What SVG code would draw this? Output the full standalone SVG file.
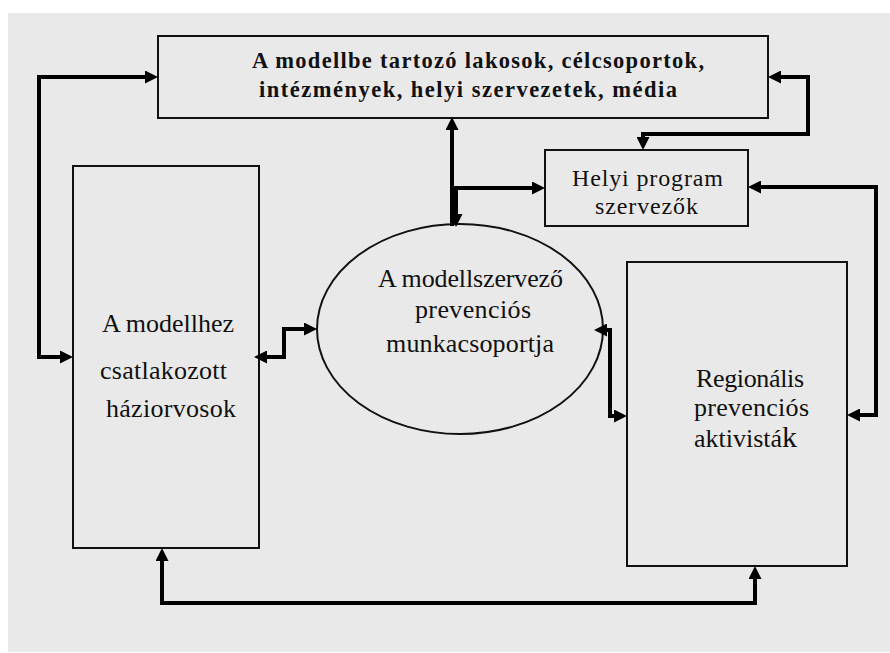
<svg xmlns="http://www.w3.org/2000/svg" width="890" height="653" viewBox="0 0 890 653">
<style>
.box{fill:none;stroke:#111;stroke-width:2}
.t{font-family:"Liberation Serif","Times New Roman",serif;font-size:26px;fill:#111}
.s{font-family:"Liberation Serif","Times New Roman",serif;font-size:24px;fill:#111}
.b{font-family:"Liberation Serif","Times New Roman",serif;font-size:22.5px;font-weight:bold;fill:#111}
.c{fill:none;stroke:#000;stroke-width:4;marker-end:url(#ah)}
.c2{fill:none;stroke:#000;stroke-width:4;marker-start:url(#ah);marker-end:url(#ah)}
</style>
<defs>
<marker id="ah" markerUnits="userSpaceOnUse" markerWidth="13" markerHeight="13" viewBox="0 0 13 13" refX="8" refY="6.5" orient="auto-start-reverse">
<path d="M0,0 L13,6.5 L0,13 z" fill="#000"/>
</marker>
</defs>
<rect x="0" y="0" width="890" height="653" fill="#fff"/>
<rect x="8" y="13" width="882" height="639" fill="#e9e9e9"/>

<g id="top-box">
<rect class="box" x="158" y="36" width="610" height="82"/>
<text class="b" x="252" y="68" textLength="452" lengthAdjust="spacing">A modellbe tartozó lakosok, célcsoportok,</text>
<text class="b" x="259" y="97" textLength="418" lengthAdjust="spacing">intézmények, helyi szervezetek, média</text>
</g>

<g id="helyi">
<rect class="box" x="545" y="150" width="203" height="76"/>
<text class="s" x="572" y="186" textLength="151" lengthAdjust="spacing">Helyi program</text>
<text class="s" x="595" y="214" textLength="103" lengthAdjust="spacing">szervezők</text>
</g>

<g id="haziorvosok">
<rect class="box" x="73" y="166" width="186" height="382"/>
<text class="t" x="102" y="332" textLength="132" lengthAdjust="spacing">A modellhez</text>
<text class="t" x="100" y="379" textLength="127" lengthAdjust="spacing">csatlakozott</text>
<text class="t" x="106" y="417" textLength="130" lengthAdjust="spacing">háziorvosok</text>
</g>

<g id="munkacsoport">
<ellipse cx="460" cy="329" rx="143" ry="105" fill="none" stroke="#111" stroke-width="2"/>
<text class="t" x="378" y="287" textLength="185" lengthAdjust="spacing">A modellszervező</text>
<text class="t" x="415" y="318" textLength="116" lengthAdjust="spacing">prevenciós</text>
<text class="t" x="386" y="352" textLength="168" lengthAdjust="spacing">munkacsoportja</text>
</g>

<g id="regionalis">
<rect class="box" x="627" y="262" width="220" height="304"/>
<text class="t" x="696" y="387" textLength="108" lengthAdjust="spacing">Regionális</text>
<text class="t" x="694" y="416" textLength="115" lengthAdjust="spacing">prevenciós</text>
<text class="t" x="694" y="447">aktivistá<tspan font-size="30">k</tspan></text>
</g>

<g id="connectors">
<path class="c2" d="M153 77 H39 V357 H68"/>
<path class="c2" d="M773 77 H808 V134 H643 V145"/>
<path class="c2" d="M753 187 H876 V415 H852"/>
<path class="c" d="M452 226 V122"/>
<path class="c2" d="M540 188 H456 V222"/>
<path class="c2" d="M259 357 H284 V329 H312"/>
<path class="c2" d="M599 330 H610 V416 H622"/>
<path class="c2" d="M162 553 V603 H755 V571"/>
</g>
</svg>
